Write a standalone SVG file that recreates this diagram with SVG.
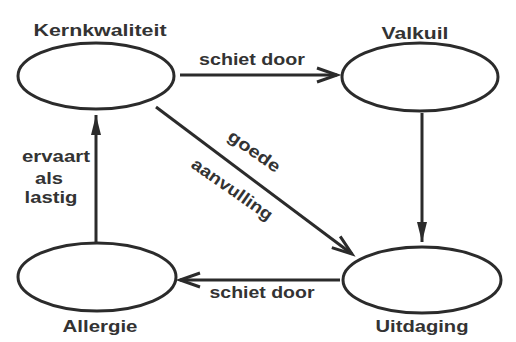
<svg xmlns="http://www.w3.org/2000/svg" width="516" height="342" viewBox="0 0 516 342">
<defs>
<style>
.node ellipse{fill:#fff;stroke:#2b2b2b;stroke-width:3}
text{font-family:"Liberation Sans",Arial,sans-serif;font-weight:bold;font-size:17px;fill:#333;lengthAdjust:spacingAndGlyphs}
.edge{stroke:#2b2b2b;stroke-width:3;fill:none}
</style>
<marker id="open" markerUnits="userSpaceOnUse" markerWidth="30" markerHeight="20" viewBox="0 -10 30 20" refX="22" refY="0" orient="auto">
<path d="M2,-7 L22,0 L2,7" fill="none" stroke="#2b2b2b" stroke-width="3" stroke-linejoin="miter"/>
</marker>
<marker id="solid" markerUnits="userSpaceOnUse" markerWidth="24" markerHeight="14" viewBox="0 -7 24 14" refX="20" refY="0" orient="auto">
<path d="M0,-5 L20,0 L0,5 Z" fill="#2b2b2b"/>
</marker>
</defs>
<rect width="516" height="342" fill="#fff"/>
<g id="connectors">
<line class="edge" x1="180" y1="75" x2="337" y2="75" marker-end="url(#open)"/>
<line class="edge" x1="422" y1="113" x2="422" y2="242" marker-end="url(#solid)"/>
<line class="edge" x1="340" y1="280" x2="180" y2="280" marker-end="url(#open)"/>
<line class="edge" x1="96" y1="242" x2="96" y2="115" marker-end="url(#solid)"/>
<line class="edge" x1="156" y1="107" x2="352" y2="254" marker-end="url(#open)"/>
<text x="252" y="65" text-anchor="middle" textLength="106" lengthAdjust="spacingAndGlyphs">schiet door</text>
<text x="262" y="298" text-anchor="middle" textLength="105" lengthAdjust="spacingAndGlyphs">schiet door</text>
<text x="56" y="162" text-anchor="middle" textLength="68" lengthAdjust="spacingAndGlyphs">ervaart</text>
<text x="49" y="184" text-anchor="middle" textLength="28" lengthAdjust="spacingAndGlyphs">als</text>
<text x="51" y="203" text-anchor="middle" textLength="53" lengthAdjust="spacingAndGlyphs">lastig</text>
<text transform="translate(251,156) rotate(35)" text-anchor="middle" textLength="60" lengthAdjust="spacingAndGlyphs">goede</text>
<text transform="translate(229,194) rotate(35)" text-anchor="middle" textLength="95" lengthAdjust="spacingAndGlyphs">aanvulling</text>
</g>
<g id="kernkwaliteit" class="node">
<ellipse cx="96" cy="76" rx="78" ry="33"/>
<text x="100" y="36" text-anchor="middle" textLength="133" lengthAdjust="spacingAndGlyphs">Kernkwaliteit</text>
</g>
<g id="valkuil" class="node">
<ellipse cx="420" cy="77" rx="78" ry="34"/>
<text x="415" y="39" text-anchor="middle" textLength="67" lengthAdjust="spacingAndGlyphs">Valkuil</text>
</g>
<g id="allergie" class="node">
<ellipse cx="97" cy="277" rx="79" ry="34"/>
<text x="100" y="332" text-anchor="middle" textLength="75" lengthAdjust="spacingAndGlyphs">Allergie</text>
</g>
<g id="uitdaging" class="node">
<ellipse cx="422" cy="280" rx="79" ry="33"/>
<text x="422" y="332" text-anchor="middle" textLength="93" lengthAdjust="spacingAndGlyphs">Uitdaging</text>
</g>
</svg>
